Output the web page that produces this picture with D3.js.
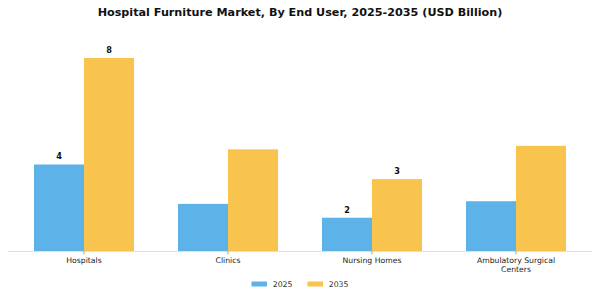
<!DOCTYPE html>
<html><head><meta charset="utf-8">
<script src="https://cdn.jsdelivr.net/npm/d3@7"></script>
<style>body{margin:0;background:#fff}svg{display:block}</style>
</head><body>
<svg id="c" width="600" height="300"></svg>
<script>
const categories = ["Hospitals", "Clinics", "Nursing Homes", "Ambulatory Surgical Centers"];
const years = ["2025", "2035"];
const values2025 = [4.0, 2.52, 2.0, 2.62];
const values2035 = [8.0, 4.57, 3.45, 4.7];
const labeledCategories = ["Hospitals", "Nursing Homes"];
const colors = ["#5DB3E8", "#F9C44D"];
const title = "Hospital Furniture Market, By End User, 2025-2035 (USD Billion)";

const svg = d3.select("#c");
const font = "'DejaVu Sans', sans-serif";
const baseY = 251;

const x = d3.scaleBand().domain(categories).range([12, 588]).paddingInner(0.3056).paddingOuter(0.1528);
const xs = d3.scaleBand().domain(years).range([0, x.bandwidth()]);
const y = d3.scaleLinear().domain([0.75, 8]).range([baseY, 58]);

svg.append("text").attr("x", 300).attr("y", 16).attr("text-anchor", "middle")
  .attr("font-family", font).attr("font-weight", "bold").attr("font-size", 11.2).attr("fill", "#111")
  .text(title);

const series = [values2025, values2035];
const groups = svg.append("g");
categories.forEach((c, i) => {
  years.forEach((yr, j) => {
    const v = series[j][i];
    groups.append("rect")
      .attr("x", x(c) + xs(yr)).attr("width", xs.bandwidth())
      .attr("y", y(v)).attr("height", baseY - y(v))
      .attr("fill", colors[j]);
    if (labeledCategories.includes(c)) {
      groups.append("text")
        .attr("x", x(c) + xs(yr) + xs.bandwidth() / 2).attr("y", y(v) - 5)
        .attr("text-anchor", "middle").attr("font-family", font).attr("font-weight", "bold")
        .attr("font-size", 8.2).attr("fill", "#111").text(d3.format(".0f")(v));
    }
  });
});

// axis
svg.append("line").attr("x1", 8).attr("x2", 592).attr("y1", baseY + 0.5).attr("y2", baseY + 0.5)
  .attr("stroke", "#e0e0e0").attr("stroke-width", 1);
categories.forEach(c => {
  const cx = x(c) + x.bandwidth() / 2;
  svg.append("line").attr("x1", cx).attr("x2", cx).attr("y1", baseY).attr("y2", baseY + 3.5)
    .attr("stroke", "#999").attr("stroke-width", 0.8);
});
const wrap = {"Ambulatory Surgical Centers": ["Ambulatory Surgical", "Centers"]};
categories.forEach(c => {
  const cx = x(c) + x.bandwidth() / 2;
  const lines = wrap[c] || [c];
  const t = svg.append("text").attr("x", cx).attr("y", 263).attr("text-anchor", "middle")
    .attr("font-family", font).attr("font-size", 7.7).attr("fill", "#222");
  lines.forEach((l, k) => t.append("tspan").attr("x", cx).attr("dy", k ? 8.8 : 0).text(l));
});

// legend
const legX = [251.5, 307.5];
years.forEach((yr, j) => {
  svg.append("rect").attr("x", legX[j]).attr("y", 281.5).attr("width", 15.5).attr("height", 5)
    .attr("fill", colors[j]);
  svg.append("text").attr("x", legX[j] + 21.2).attr("y", 286.8).attr("font-family", font)
    .attr("font-size", 7.8).attr("fill", "#333").text(yr);
});
</script>
</body></html>
